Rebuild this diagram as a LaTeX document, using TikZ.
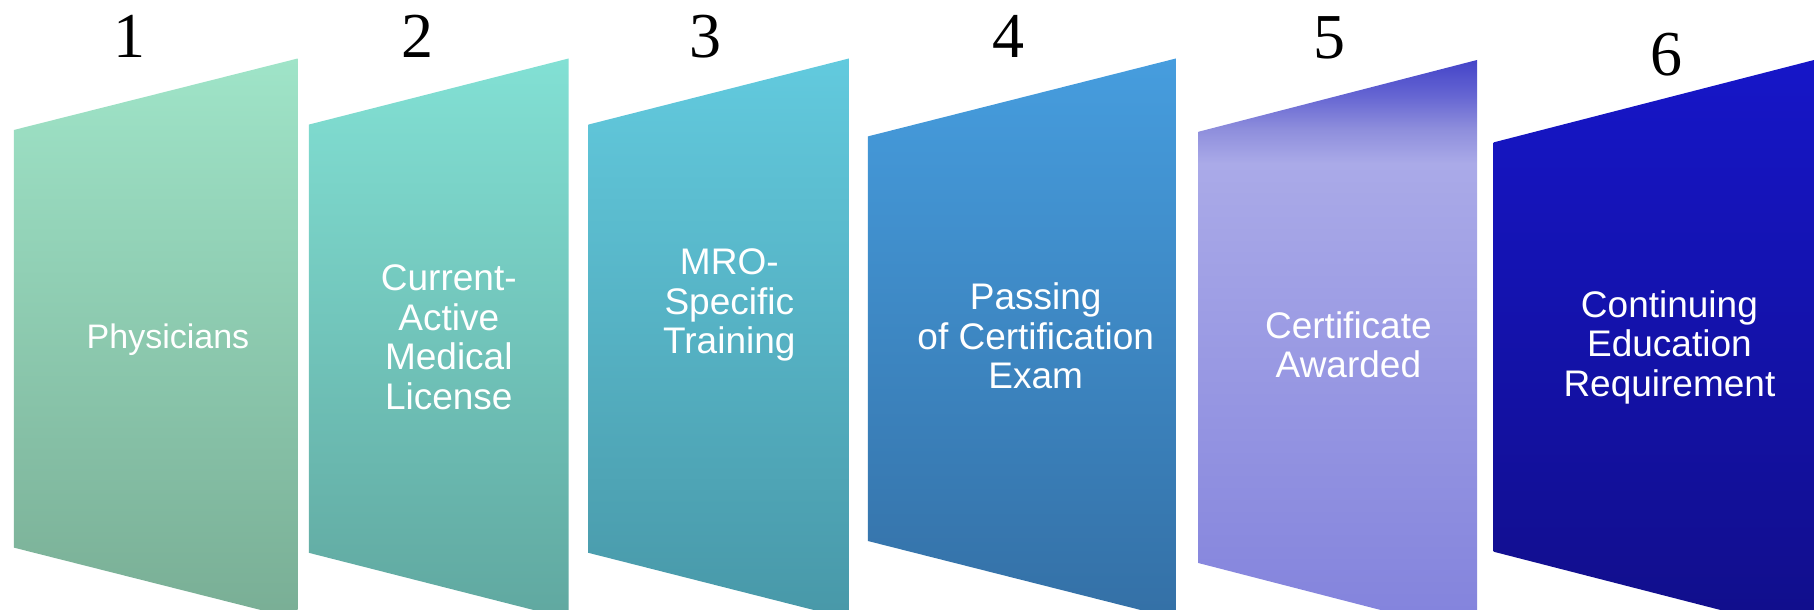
\documentclass[tikz,border=0pt]{standalone}
\usepackage{fontspec}
\setmainfont{Liberation Serif}
\newfontfamily\arialfont{Liberation Sans}
\definecolor{c1t}{HTML}{9FE4C8}\definecolor{c1b}{HTML}{79AE95}
\definecolor{c2t}{HTML}{82E0D4}\definecolor{c2b}{HTML}{60A8A0}
\definecolor{c3t}{HTML}{62CADE}\definecolor{c3b}{HTML}{4898A8}
\definecolor{c4t}{HTML}{469DDE}\definecolor{c4b}{HTML}{3470A6}
\definecolor{c5t}{HTML}{4444C8}\definecolor{c5m}{HTML}{6464D2}
\definecolor{c5n}{HTML}{8E8EDC}\definecolor{c5l}{HTML}{AAAAE8}
\definecolor{c5b}{HTML}{8282DC}
\definecolor{c6t}{HTML}{1616C8}\definecolor{c6b}{HTML}{110E8A}
\pgfdeclareverticalshading{sfive}{100bp}{color(0bp)=(c5b); color(25bp)=(c5b); color(66bp)=(c5l); color(69bp)=(c5n); color(72bp)=(c5m); color(75bp)=(c5t); color(100bp)=(c5t)}
\begin{document}
\begin{tikzpicture}[x=1pt,y=-1pt,
  num/.style={anchor=base,inner sep=0pt,font=\fontsize{64}{64}\selectfont,text=black},
  lbl/.style={anchor=north,inner sep=0pt,align=center,text=white,font=\arialfont\fontsize{37}{39.5}\selectfont}]
\useasboundingbox (0,0) rectangle (1814,610);
\clip (0,0) rectangle (1814,610);
\fill[white] (0,0) rectangle (1814,610);
% panels
\shade[top color=c1t,bottom color=c1b] (13.8,130) -- (297.7,58.5) -- (297.7,619.3) -- (13.8,547.6) -- cycle;
\shade[top color=c2t,bottom color=c2b] (308.8,124.6) -- (568.6,58.5) -- (568.6,618.9) -- (308.8,552.8) -- cycle;
\shade[top color=c3t,bottom color=c3b] (588.3,124.6) -- (848.9,58.5) -- (848.9,618.9) -- (588.3,552.8) -- cycle;
\shade[top color=c4t,bottom color=c4b] (867.9,136.4) -- (1175.9,58.5) -- (1175.9,618.9) -- (867.9,541) -- cycle;
\shade[shading=sfive] (1198.3,131.8) -- (1477,60) -- (1477,634.8) -- (1198.3,563) -- cycle;
\shade[top color=c6t,bottom color=c6b] (1493.6,142.4) -- (1814,60) -- (1814,634) -- (1493.6,551.7) -- cycle;
% numbers
\node[num] (n1) at (129.5,57.3) {1};
\node[num] (n2) at (417,57.3) {2};
\node[num] (n3) at (705,57.8) {3};
\node[num] (n4) at (1008.4,57.3) {4};
\node[num] (n5) at (1329,59) {5};
\node[num] (n6) at (1666.8,75) {6};
% labels
\node[lbl,font=\arialfont\fontsize{34}{39}\selectfont] (t1) at (168,323.7) {Physicians};
\node[lbl] (t2) at (448.8,264.8) {Current-\\Active\\Medical\\License};
\node[lbl] (t3) at (729.3,248.6) {MRO-\\Specific\\Training};
\node[lbl] (t4) at (1035.7,282.6) {Passing\\of Certification\\Exam};
\node[lbl] (t5) at (1348.4,311) {Certificate\\Awarded};
\node[lbl] (t6) at (1669.4,290.2) {Continuing\\Education\\Requirement};
\end{tikzpicture}
\end{document}
